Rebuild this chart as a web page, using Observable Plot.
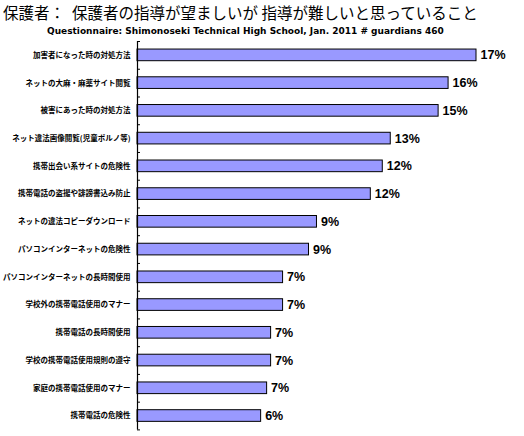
<!DOCTYPE html>
<html>
<head>
<meta charset="utf-8">
<script src="https://cdn.jsdelivr.net/npm/d3@7"></script>
<script src="https://cdn.jsdelivr.net/npm/@observablehq/plot@0.6"></script>
<style>
  body { margin: 0; background: #fff; overflow: hidden; }
  #title { font-family: "Noto Sans CJK JP", sans-serif; font-size: 15.5px; line-height: 24px; height: 22px; padding-left: 3px; white-space: nowrap; }
  #subtitle { font-family: "DejaVu Sans", sans-serif; font-weight: bold; font-size: 9px; line-height: 18px; height: 14px; padding-left: 47px; white-space: nowrap; }
  #plot-region svg { display: block; }
</style>
</head>
<body>
<div id="title">保護者：&nbsp;&nbsp;保護者の指導が望ましいが 指導が難しいと思っていること</div>
<div id="subtitle">Questionnaire: Shimonoseki Technical High School, Jan. 2011 # guardians 460</div>
<div id="plot-region"></div>
<script>
const categories = [
    "加害者になった時の対処方法",
    "ネットの大麻・麻薬サイト閲覧",
    "被害にあった時の対処方法",
    "ネット違法画像閲覧(児童ポルノ等)",
    "携帯出会い系サイトの危険性",
    "携帯電話の盗撮や誹謗書込み防止",
    "ネットの違法コピーダウンロード",
    "パソコンインターネットの危険性",
    "パソコンインターネットの長時間使用",
    "学校外の携帯電話使用のマナー",
    "携帯電話の長時間使用",
    "学校の携帯電話使用規則の遵守",
    "家庭の携帯電話使用のマナー",
    "携帯電話の危険性"
];
const values = [17.0, 15.6, 15.1, 12.7, 12.3, 11.7, 9.0, 8.6, 7.3, 7.3, 6.7, 6.7, 6.5, 6.2];
const valueLabels = ["17%", "16%", "15%", "13%", "12%", "12%", "9%", "9%", "7%", "7%", "7%", "7%", "7%", "6%"];

const data = categories.map((c, i) => ({ label: c, value: values[i], text: valueLabels[i] }));

// height of one category slot, px (plot area / nb of categories)
const step = 388.4 / categories.length;

let chart = Plot.plot({
    width: 524,
    height: 400,
    marginTop: 5,
    marginBottom: 6.6,
    marginLeft: 137,
    marginRight: 48,
    style: { fontFamily: "'Noto Sans CJK JP', sans-serif", background: "white" },
    x: { domain: [0, 17], axis: null },
    y: { domain: categories, paddingInner: 0.58, paddingOuter: 0.29, round: false, label: null },
    marks: [
        Plot.barX(data, { x: "value", y: "label", fill: "#9999ff", stroke: "black", strokeWidth: 1 }),
        Plot.axisY({ tickSize: 0, tickPadding: 7, fontSize: 7.5, fontWeight: "bold", fill: "black" }),
        Plot.text(data, { x: "value", y: "label", text: "text", textAnchor: "start", dx: 4, fontSize: 12.5, fontWeight: "bold", fontFamily: "'Liberation Sans', sans-serif", fill: "black" }),
        // little separators between categories
        Plot.ruleY(categories, { y: d => d, x1: 0, x2: 0.15, dy: -step / 2, stroke: "black" }),
        Plot.ruleY(categories.slice(-1), { y: d => d, x1: 0, x2: 0.15, dy: step / 2, stroke: "black" }),
        Plot.ruleX([0], { stroke: "black", strokeWidth: 1.2 })
    ]
});

let plot = document.getElementById("plot-region");
plot.innerHTML = "";
plot.append(chart);
</script>
</body>
</html>
